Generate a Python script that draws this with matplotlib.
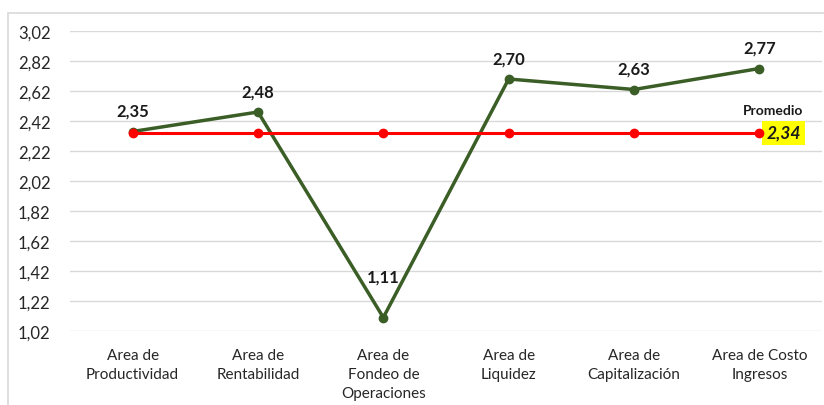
import matplotlib.pyplot as plt
import matplotlib.patches as mpatches
from matplotlib.ticker import FuncFormatter

categorias = ['Area de\nProductividad', 'Area de\nRentabilidad', 'Area de\nFondeo de\nOperaciones',
              'Area de\nLiquidez', 'Area de\nCapitalización', 'Area de Costo\nIngresos']
valores = [2.35, 2.48, 1.11, 2.70, 2.63, 2.77]
promedio = [2.34, 2.34, 2.34, 2.34, 2.34, 2.34]
yticks = [1.02, 1.22, 1.42, 1.62, 1.82, 2.02, 2.22, 2.42, 2.62, 2.82, 3.02]

plt.rcParams['font.family'] = ['Lato', 'DejaVu Sans']

fig = plt.figure(figsize=(8.24, 4.06), dpi=100)
ax = fig.add_axes([70 / 824, 74 / 406, 752 / 824, 300 / 406])

# chart frame
fig.patches.append(mpatches.Rectangle((8 / 824, -0.01), 1.0, (406 - 14) / 406 + 0.01,
                                      transform=fig.transFigure, fill=False,
                                      edgecolor='#d9d9d9', linewidth=1.2))

x = range(len(categorias))
ax.plot(x, valores, color='#3b5e26', linewidth=2.5, marker='o', markersize=6, zorder=3)
ax.plot(x, promedio, color='#ff0000', linewidth=2.2, marker='o', markersize=6, zorder=4)

# label offset (points above the marker); the low point gets its label higher up
offsets = [9, 9, 24, 9, 9, 9]
for i, v in enumerate(valores):
    ax.annotate(f'{v:.2f}'.replace('.', ','), xy=(i, v), xytext=(0, offsets[i]), textcoords='offset points',
                ha='center', va='bottom', fontsize=12, fontweight='bold', color='#1a1a1a')

ax.annotate('Promedio', xy=(5, promedio[-1]), xytext=(10, 12), textcoords='offset points',
            ha='center', va='bottom', fontsize=10, fontweight='bold', color='#1a1a1a')
ax.annotate(f'{promedio[-1]:.2f}'.replace('.', ','), xy=(5, promedio[-1]), xytext=(5, 0),
            textcoords='offset points', ha='left', va='center', fontsize=12.5,
            fontweight='bold', fontstyle='italic', color='#1a1a1a',
            bbox=dict(boxstyle='square,pad=0.25', facecolor='#ffff00', edgecolor='none'))

ax.set_xlim(-0.5, 5.5)
ax.set_ylim(1.02, 3.02)
ax.set_yticks(yticks)
ax.yaxis.set_major_formatter(FuncFormatter(lambda v, p: f'{v:.2f}'.replace('.', ',')))
ax.set_xticks(list(x))
ax.set_xticklabels(categorias, fontsize=11, linespacing=1.45, color='#262626')
ax.tick_params(axis='y', labelsize=12, labelcolor='#262626', length=0, pad=14)
ax.tick_params(axis='x', length=0, pad=12)
ax.grid(axis='y', color='#d9d9d9', linewidth=1)
ax.set_axisbelow(True)
for s in ax.spines.values():
    s.set_visible(False)

fig.savefig('out.png', dpi=100)
